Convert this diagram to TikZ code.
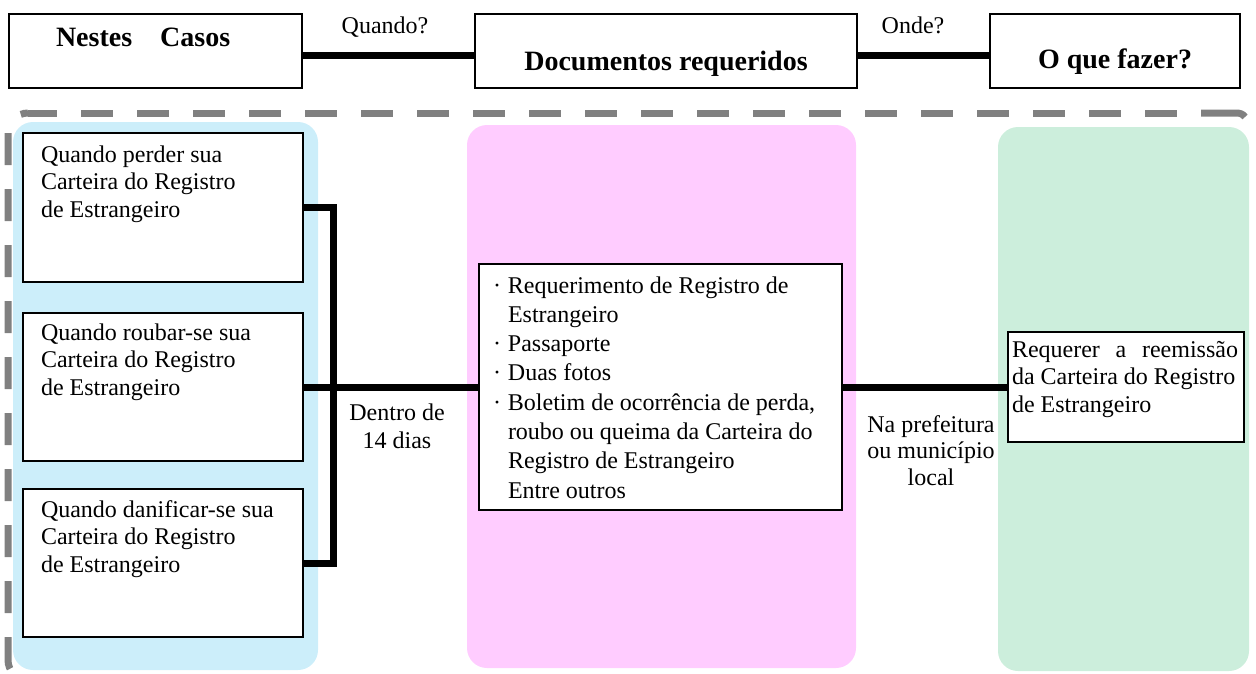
\documentclass[tikz,border=0pt]{standalone}
\usepackage{fontspec}
\setmainfont{Liberation Serif}
\definecolor{pblue}{RGB}{204,238,250}
\definecolor{ppink}{RGB}{255,204,255}
\definecolor{pgreen}{RGB}{204,238,220}
\definecolor{dashgray}{RGB}{128,128,128}
\begin{document}
\begin{tikzpicture}[x=1pt,y=-1pt,
  box/.style={draw=black, line width=1.5pt, fill=white, inner sep=0pt, outer sep=0pt, anchor=north west},
  conn/.style={draw=black, line width=7pt},
  dashline/.style={draw=dashgray, line width=7pt, dash pattern=on 32pt off 24pt},
  solidline/.style={draw=dashgray, line width=7pt},
  txt/.style={inner sep=0pt, outer sep=0pt, font=\fontsize{24}{27.5}\selectfont},
  head/.style={inner sep=0pt, outer sep=0pt, font=\fontsize{28}{32}\selectfont\bfseries}]
\useasboundingbox (0,0) rectangle (1256,673);

% panels
\fill[pblue, rounded corners=20pt] (13,122) rectangle (318,670);
\fill[ppink, rounded corners=20pt] (467,125) rectangle (856,668);
\fill[pgreen, rounded corners=20pt] (998,127) rectangle (1249,671);

% dashed frame
\draw[dashline, dash phase=3pt] (28,113) -- (1190,113);
\draw[solidline] (1201,113) -- (1236,113) .. controls (1240,113) and (1243,114) .. (1245,117);
\draw[dashline, rounded corners=20pt, dash phase=24.6pt] (28,113) -- (8,113) -- (8,680) -- (100,680);

% top row
\node[box, minimum width=293pt, minimum height=74pt] (b1) at (9,14) {};
\node[box, minimum width=382pt, minimum height=74pt] (b2) at (475,14) {};
\node[box, minimum width=250pt, minimum height=74pt] (b3) at (990,14) {};
\draw[conn] ([yshift=-4pt]b1.east) -- ([yshift=-4pt]b2.west);
\draw[conn] ([yshift=-4pt]b2.east) -- ([yshift=-4pt]b3.west);
\node[head, anchor=base west] (t1) at (56,46) {Nestes\hspace{28pt}Casos};
\node[head, anchor=base] (t2) at (666,70) {Documentos requeridos};
\node[head, anchor=base] (t3) at (1115,68) {O que fazer?};
\node[txt, anchor=base] (q1) at (385,33) {Quando?};
\node[txt, anchor=base] (q2) at (913,33) {Onde?};

% left boxes
\node[box, minimum width=280pt, minimum height=149pt] (ca) at (23,133) {};
\node[box, minimum width=280pt, minimum height=148pt] (cb) at (23,313) {};
\node[box, minimum width=280pt, minimum height=148pt] (cc) at (23,489) {};
\node[txt, anchor=base west] (ta) at (41,162) {\begin{tabular}[t]{@{}l@{}}Quando perder sua\\Carteira do Registro\\de Estrangeiro\end{tabular}};
\node[txt, anchor=base west] (tb) at (41,340) {\begin{tabular}[t]{@{}l@{}}Quando roubar-se sua\\Carteira do Registro\\de Estrangeiro\end{tabular}};
\node[txt, anchor=base west] (tc) at (41,517) {\begin{tabular}[t]{@{}l@{}}Quando danificar-se sua\\Carteira do Registro\\de Estrangeiro\end{tabular}};

% middle box
\node[box, minimum width=363pt, minimum height=246pt] (mid) at (479,264) {};
\node[inner sep=0pt, outer sep=0pt, font=\fontsize{24}{29.3}\selectfont, anchor=base west] (tm) at (493,293) {\begin{tabular}[t]{@{}l@{}}
\makebox[15pt][l]{·}Requerimento de Registro de\\
\hspace{15pt}Estrangeiro\\
\makebox[15pt][l]{·}Passaporte\\
\makebox[15pt][l]{·}Duas fotos\\
\makebox[15pt][l]{·}Boletim de ocorrência de perda,\\
\hspace{15pt}roubo ou queima da Carteira do\\
\hspace{15pt}Registro de Estrangeiro\\
\hspace{15pt}Entre outros
\end{tabular}};

% result box
\node[box, minimum width=236pt, minimum height=110pt] (res) at (1008,332) {};
\node[txt, anchor=base west] (tr) at (1012,357) {\begin{tabular}[t]{@{}l@{}}\makebox[226pt][s]{Requerer a reemissão}\\da Carteira do Registro\\de Estrangeiro\end{tabular}};

% connectors
\draw[conn] (ca.east) -- ++(30,0) |- (cc.east);
\draw[conn] (cb.east) -- (mid.west);
\draw[conn] (mid.east) -- (res.west);

% connector labels
\node[inner sep=0pt, font=\fontsize{24}{28}\selectfont, anchor=base] (l1) at (397,420) {\begin{tabular}[t]{@{}c@{}}Dentro de\\14 dias\end{tabular}};
\node[inner sep=0pt, font=\fontsize{24}{26.5}\selectfont, anchor=base] (l2) at (931,432) {\begin{tabular}[t]{@{}c@{}}Na prefeitura\\ou município\\local\end{tabular}};
\end{tikzpicture}
\end{document}
